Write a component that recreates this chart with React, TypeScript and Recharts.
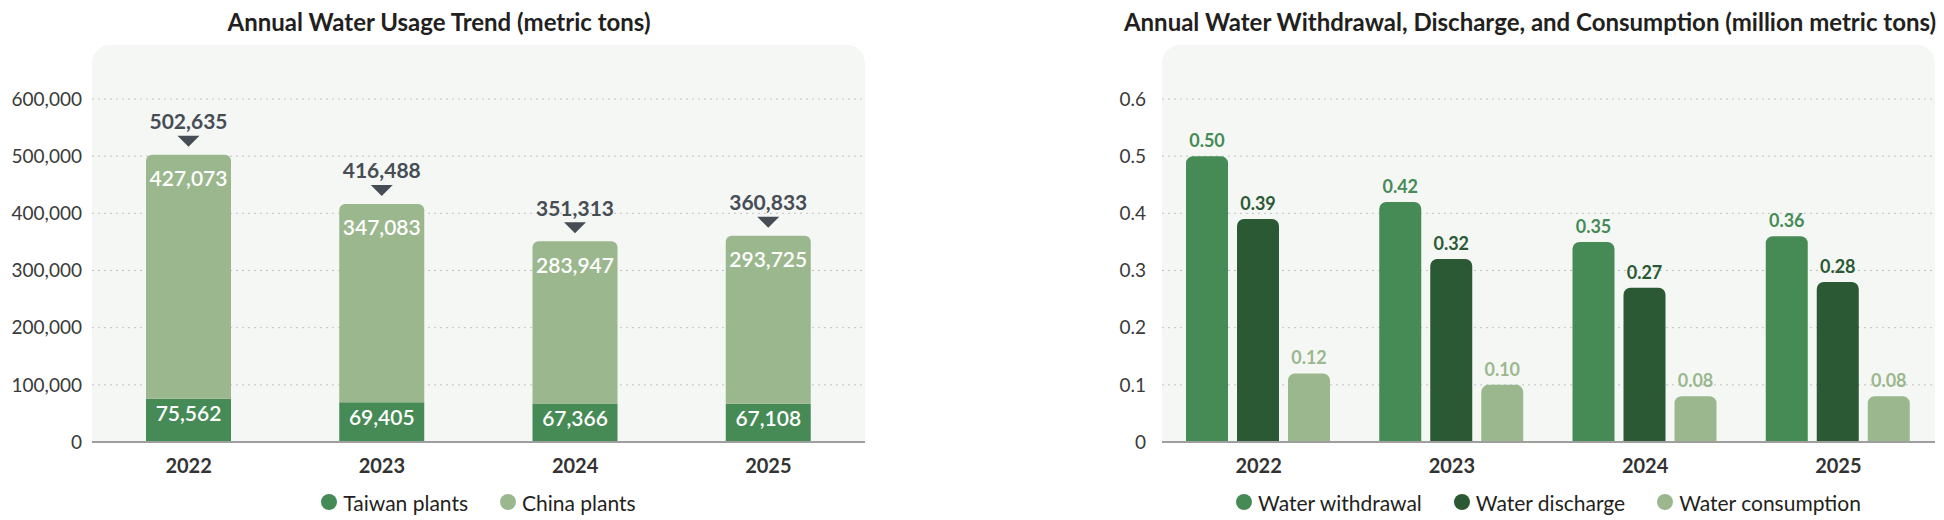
import {
  BarChart,
  Bar,
  XAxis,
  YAxis,
  CartesianGrid,
  Legend,
  LabelList,
} from "recharts";

const YEARS = ["2022", "2023", "2024", "2025"];
const TAIWAN_PLANTS = [75562, 69405, 67366, 67108];
const CHINA_PLANTS = [427073, 347083, 283947, 293725];
const USAGE_TOTALS = [502635, 416488, 351313, 360833];
const USAGE_TICKS = [0, 100000, 200000, 300000, 400000, 500000, 600000];
const USAGE_SERIES = ["Taiwan plants", "China plants"];

const WITHDRAWAL = [0.5, 0.42, 0.35, 0.36];
const DISCHARGE = [0.39, 0.32, 0.27, 0.28];
const CONSUMPTION = [0.12, 0.1, 0.08, 0.08];
const FLOW_TICKS = [0, 0.1, 0.2, 0.3, 0.4, 0.5, 0.6];
const FLOW_SERIES = ["Water withdrawal", "Water discharge", "Water consumption"];

const GREEN = "#468b55";
const DARK_GREEN = "#2a5934";
const LIGHT_GREEN = "#9bb78e";
const SLATE = "#474d55";
const FONT = "Lato, 'Noto Sans', sans-serif";

const usageData = YEARS.map((year, i) => ({
  year,
  taiwan: TAIWAN_PLANTS[i],
  china: CHINA_PLANTS[i],
  total: USAGE_TOTALS[i],
}));

const flowData = YEARS.map((year, i) => ({
  year,
  withdrawal: WITHDRAWAL[i],
  discharge: DISCHARGE[i],
  consumption: CONSUMPTION[i],
}));

const fmt = (v: number) => v.toLocaleString("en-US");

const box = (p: any) => ({
  x: p.viewBox?.x ?? p.x,
  y: p.viewBox?.y ?? p.y,
  width: p.viewBox?.width ?? p.width,
});

const insideLabel = (offset: number) => (props: any) => {
  const { x, y, width } = box(props);
  return (
    <text
      x={x + width / 2}
      y={y + offset}
      textAnchor="middle"
      dominantBaseline="central"
      fill="#ffffff"
      fontSize={21}
      fontWeight={600}
    >
      {fmt(Number(props.value))}
    </text>
  );
};

const TotalLabel = (props: any) => {
  const { x, y, width } = box(props);
  const cx = x + width / 2;
  return (
    <g>
      <text
        x={cx}
        y={y - 34}
        textAnchor="middle"
        dominantBaseline="central"
        fill={SLATE}
        fontSize={21}
        fontWeight={700}
      >
        {fmt(Number(props.value))}
      </text>
      <path d={`M${cx - 11},${y - 19} L${cx + 11},${y - 19} L${cx},${y - 8} Z`} fill={SLATE} />
    </g>
  );
};

const LegendRow = ({ payload }: any) => (
  <div
    style={{
      display: "flex",
      justifyContent: "center",
      alignItems: "center",
      height: 24,
      fontSize: 21,
      color: "#231f20",
    }}
  >
    {(payload || []).map((entry: any) => (
      <span
        key={entry.value}
        style={{ display: "flex", alignItems: "center", margin: "0 16px" }}
      >
        <span
          style={{
            width: 16,
            height: 16,
            borderRadius: 8,
            background: entry.color,
            marginRight: 6,
          }}
        />
        {entry.value}
      </span>
    ))}
  </div>
);

const Title = ({ text, center }: { text: string; center: number }) => (
  <div
    style={{
      position: "absolute",
      left: center - 500,
      width: 1000,
      top: 7,
      lineHeight: "30px",
      textAlign: "center",
      fontSize: 24,
      fontWeight: 700,
      color: "#231f20",
    }}
  >
    {text}
  </div>
);

const Panel = ({ left, width }: { left: number; width: number }) => (
  <div
    style={{
      position: "absolute",
      left,
      top: 45,
      width,
      height: 397,
      background: "#f5f7f5",
      borderRadius: "18px 18px 0 0",
    }}
  />
);

const App = () => {
  return (
    <div
      style={{
        position: "absolute",
        left: 0,
        top: 0,
        width: 1944,
        height: 520,
        fontFamily: FONT,
        background: "#ffffff",
      }}
    >
      <Panel left={92} width={773} />
      <Panel left={1162} width={773} />
      <Title text="Annual Water Usage Trend (metric tons)" center={439} />
      <Title
        text="Annual Water Withdrawal, Discharge, and Consumption (million metric tons)"
        center={1530}
      />

      <div style={{ position: "absolute", left: 0, top: 0 }}>
        <BarChart
          width={880}
          height={520}
          data={usageData}
          margin={{ top: 99, right: 15, bottom: 0, left: 0 }}
        >
          <CartesianGrid vertical={false} stroke="#c2c2c2" strokeDasharray="2 4" />
          <XAxis
            dataKey="year"
            height={78}
            tickSize={0}
            tickMargin={17}
            tickLine={false}
            axisLine={{ stroke: "#9e9e9e", strokeWidth: 2 }}
            tick={{ fill: "#333333", fontSize: 20, fontWeight: 700 }}
          />
          <YAxis
            width={92}
            domain={[0, 600000]}
            ticks={USAGE_TICKS}
            tickFormatter={fmt}
            tickSize={0}
            tickMargin={10}
            axisLine={false}
            tickLine={false}
            tick={{ fill: "#3a3a3a", fontSize: 19 }}
          />
          <Legend
            verticalAlign="middle"
            align="center"
            layout="horizontal"
            content={LegendRow}
            itemSorter={(item: any) => USAGE_SERIES.indexOf(item.value)}
            wrapperStyle={{ top: 490, left: 92, width: 773, height: 24 }}
          />
          <Bar
            dataKey="taiwan"
            name={USAGE_SERIES[0]}
            stackId="usage"
            fill={GREEN}
            barSize={85}
            isAnimationActive={false}
          >
            <LabelList dataKey="taiwan" content={insideLabel(14)} />
          </Bar>
          <Bar
            dataKey="china"
            name={USAGE_SERIES[1]}
            stackId="usage"
            fill={LIGHT_GREEN}
            barSize={85}
            radius={[6, 6, 0, 0]}
            isAnimationActive={false}
          >
            <LabelList dataKey="china" content={insideLabel(23)} />
            <LabelList dataKey="total" content={TotalLabel} />
          </Bar>
        </BarChart>
      </div>

      <div style={{ position: "absolute", left: 1000, top: 0 }}>
        <BarChart
          width={944}
          height={520}
          data={flowData}
          margin={{ top: 99, right: 9, bottom: 0, left: 0 }}
          barCategoryGap={24}
          barGap={9}
        >
          <CartesianGrid vertical={false} stroke="#c2c2c2" strokeDasharray="2 4" />
          <XAxis
            dataKey="year"
            height={78}
            tickSize={0}
            tickMargin={17}
            tickLine={false}
            axisLine={{ stroke: "#9e9e9e", strokeWidth: 2 }}
            tick={{ fill: "#333333", fontSize: 20, fontWeight: 700 }}
          />
          <YAxis
            width={162}
            domain={[0, 0.6]}
            ticks={FLOW_TICKS}
            tickSize={0}
            tickMargin={16}
            axisLine={false}
            tickLine={false}
            tick={{ fill: "#3a3a3a", fontSize: 19 }}
          />
          <Legend
            verticalAlign="middle"
            align="center"
            layout="horizontal"
            content={LegendRow}
            itemSorter={(item: any) => FLOW_SERIES.indexOf(item.value)}
            wrapperStyle={{ top: 490, left: 162, width: 773, height: 24 }}
          />
          <Bar
            dataKey="withdrawal"
            name={FLOW_SERIES[0]}
            fill={GREEN}
            radius={[7, 7, 0, 0]}
            isAnimationActive={false}
          >
            <LabelList
              dataKey="withdrawal"
              position="top"
              offset={9}
              formatter={(v: any) => Number(v).toFixed(2)}
              fill={GREEN}
              fontSize={18}
              fontWeight={700}
            />
          </Bar>
          <Bar
            dataKey="discharge"
            name={FLOW_SERIES[1]}
            fill={DARK_GREEN}
            radius={[7, 7, 0, 0]}
            isAnimationActive={false}
          >
            <LabelList
              dataKey="discharge"
              position="top"
              offset={9}
              formatter={(v: any) => Number(v).toFixed(2)}
              fill={DARK_GREEN}
              fontSize={18}
              fontWeight={700}
            />
          </Bar>
          <Bar
            dataKey="consumption"
            name={FLOW_SERIES[2]}
            fill={LIGHT_GREEN}
            radius={[7, 7, 0, 0]}
            isAnimationActive={false}
          >
            <LabelList
              dataKey="consumption"
              position="top"
              offset={9}
              formatter={(v: any) => Number(v).toFixed(2)}
              fill={LIGHT_GREEN}
              fontSize={18}
              fontWeight={700}
            />
          </Bar>
        </BarChart>
      </div>
    </div>
  );
};

export default App;
